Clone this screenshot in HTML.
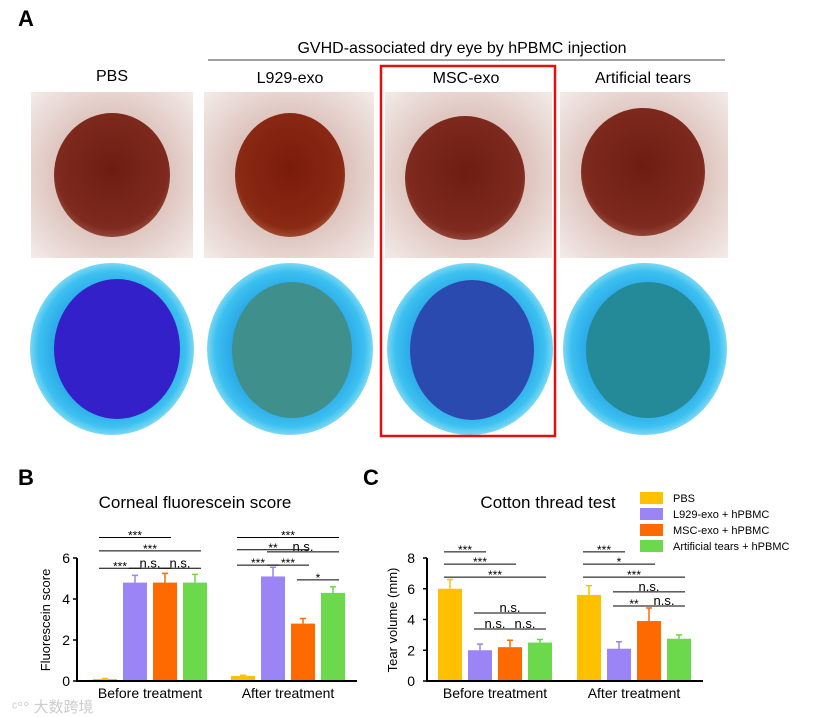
<!DOCTYPE html>
<html><head><meta charset="utf-8"><style>
body{margin:0;background:#fff}
svg{display:block;font-family:"Liberation Sans",Arial,sans-serif}
</style></head><body>
<svg width="817" height="717" viewBox="0 0 817 717">
<defs>
<radialGradient id="fur" cx="50%" cy="50%" r="70%"><stop offset="0" stop-color="#c89a90"/><stop offset="0.55" stop-color="#e0c8c2"/><stop offset="1" stop-color="#f3ebe8"/></radialGradient>
<radialGradient id="iris" cx="50%" cy="45%" r="60%"><stop offset="0" stop-color="#6e1c12"/><stop offset="0.8" stop-color="#7e2a1e"/><stop offset="1" stop-color="#a0584a"/></radialGradient>
<radialGradient id="iris2" cx="50%" cy="45%" r="60%"><stop offset="0" stop-color="#7a1a0a"/><stop offset="0.8" stop-color="#8a2a14"/><stop offset="1" stop-color="#b06040"/></radialGradient>
<radialGradient id="cy" cx="50%" cy="50%" r="50%"><stop offset="0.7" stop-color="#2aa8e8"/><stop offset="0.9" stop-color="#3cc0f0"/><stop offset="1" stop-color="#7ad8f4"/></radialGradient>
</defs>
<text x="18" y="26" font-size="22" font-weight="bold">A</text>
<text x="462" y="53" font-size="16" text-anchor="middle">GVHD-associated dry eye by hPBMC injection</text>
<line x1="208" y1="60" x2="725" y2="60" stroke="#444" stroke-width="1"/>
<g font-size="16" text-anchor="middle">
<text x="112" y="81">PBS</text>
<text x="290" y="83">L929-exo</text>
<text x="466" y="83">MSC-exo</text>
<text x="643" y="83">Artificial tears</text>
</g>
<g>
<rect x="31" y="92" width="162" height="166" fill="url(#fur)"/>
<ellipse cx="112" cy="175" rx="58" ry="62" fill="url(#iris)"/>
<rect x="204" y="92" width="170" height="166" fill="url(#fur)"/>
<ellipse cx="290" cy="175" rx="55" ry="62" fill="url(#iris2)"/>
<rect x="385" y="92" width="167" height="166" fill="url(#fur)"/>
<ellipse cx="465" cy="178" rx="60" ry="62" fill="url(#iris)"/>
<rect x="560" y="92" width="168" height="166" fill="url(#fur)"/>
<ellipse cx="643" cy="172" rx="62" ry="64" fill="url(#iris)"/>
</g>
<g>
<ellipse cx="112" cy="349" rx="82" ry="86" fill="url(#cy)"/>
<ellipse cx="117" cy="349" rx="63" ry="70" fill="#3320c8"/>
<ellipse cx="290" cy="349" rx="83" ry="86" fill="url(#cy)"/>
<ellipse cx="292" cy="350" rx="60" ry="68" fill="#3f8f8c"/>
<ellipse cx="470" cy="349" rx="83" ry="86" fill="url(#cy)"/>
<ellipse cx="472" cy="350" rx="62" ry="70" fill="#2a4ab0"/>
<ellipse cx="645" cy="349" rx="82" ry="86" fill="url(#cy)"/>
<ellipse cx="648" cy="350" rx="62" ry="68" fill="#258a98"/>
</g>
<rect x="381" y="66" width="174" height="370" fill="none" stroke="#e01010" stroke-width="2.5"/>

<text x="18" y="485" font-size="22" font-weight="bold">B</text>
<text x="195" y="508" font-size="17" text-anchor="middle">Corneal fluorescein score</text>
<text transform="translate(50,620) rotate(-90)" font-size="13" text-anchor="middle">Fluorescein score</text>
<g id="chartB"></g>
<text x="363" y="485" font-size="22" font-weight="bold">C</text>
<text x="548" y="508" font-size="17" text-anchor="middle">Cotton thread test</text>
<text transform="translate(397,620) rotate(-90)" font-size="13" text-anchor="middle">Tear volume (mm)</text>
<g id="chartC"></g>
<g font-size="11">
<rect x="640" y="492" width="23" height="12" fill="#ffc000"/><text x="673" y="502">PBS</text>
<rect x="640" y="508" width="23" height="12" fill="#9b84f5"/><text x="673" y="518">L929-exo + hPBMC</text>
<rect x="640" y="524" width="23" height="12" fill="#ff6a00"/><text x="673" y="534">MSC-exo + hPBMC</text>
<rect x="640" y="540" width="23" height="12" fill="#6cd84c"/><text x="673" y="550">Artificial tears + hPBMC</text>
</g>
<text x="12" y="712" font-size="15" fill="#ccc" font-family="'Liberation Sans','Noto Sans CJK SC',sans-serif">ᶜ°° 大数跨境</text>
</svg>
<script>
const NS="http://www.w3.org/2000/svg";
const colors=["#ffc000","#9b84f5","#ff6a00","#6cd84c"];
const groups=["Before treatment","After treatment"];
const bBefore=[0.1,4.8,4.8,4.8], bBeforeErr=[0.02,0.35,0.45,0.4];
const bAfter=[0.25,5.1,2.8,4.3], bAfterErr=[0.03,0.45,0.25,0.3];
const bTicks=[0,2,4,6];
const cBefore=[6.0,2.0,2.2,2.5], cBeforeErr=[0.6,0.4,0.45,0.2];
const cAfter=[5.6,2.1,3.9,2.75], cAfterErr=[0.6,0.45,0.85,0.25];
const cTicks=[0,2,4,6,8];
const bSig=[["***",0,0,2,7.0],["***",0,0,3,6.35],["***",0,0,1,5.5],["n.s.",0,1,2,5.5],["n.s.",0,2,3,5.5],
 ["***",1,0,3,7.0],["**",1,0,2,6.4],["n.s.",1,1,3,6.3],["***",1,0,1,5.65],["***",1,1,2,5.65],["*",1,2,3,4.93]];
const cSig=[["***",0,0,1,8.4],["***",0,0,2,7.6],["***",0,0,3,6.76],["n.s.",0,1,3,4.42],["n.s.",0,1,2,3.38],["n.s.",0,2,3,3.38],
 ["***",1,0,1,8.4],["*",1,0,2,7.6],["***",1,0,3,6.76],["n.s.",1,1,3,5.8],["**",1,1,2,4.88],["n.s.",1,2,3,4.88]];
function el(t,a,p){const e=document.createElementNS(NS,t);for(const k in a)e.setAttribute(k,a[k]);p.appendChild(e);return e;}
function chart(id,x0,x1,y0,y1,max,ticks,gx,series,errs,sig,tickX){
 const g=document.getElementById(id);
 const ys=v=>y0-(v/max)*(y0-y1);
 const bx=(gi,i)=>gx[gi]+i*30;
 ticks.forEach(t=>{const tx=el("text",{x:tickX,y:ys(t)+5,"font-size":14,"text-anchor":"end"},g);tx.textContent=t;
  
  
  const tl=el("line",{x1:x0-4,x2:x0,y1:ys(t),y2:ys(t),stroke:"#000","stroke-width":1.5},g);
  
  });
 series.forEach((s,gi)=>s.forEach((v,i)=>{
  const x=bx(gi,i),e=errs[gi][i],cx=x+12;
  const r=el("rect",{x:x,y:ys(v),width:24,height:y0-ys(v),fill:colors[i]},g);
  
  
  const eb=el("path",{d:`M${cx} ${ys(v)}V${ys(v+e)}M${cx-3} ${ys(v+e)}H${cx+3}`,stroke:colors[i],"stroke-width":1.5,fill:"none"},g);
  
  
 }));
 const ax=el("path",{d:`M${x0} ${y1}V${y0}H${x1}`,stroke:"#000","stroke-width":2,fill:"none"},g);
 
 
 groups.forEach((n,gi)=>{const t=el("text",{x:gx[gi]+57,y:y0+17,"font-size":14,"text-anchor":"middle"},g);t.textContent=n;
  
  });
 sig.forEach(([lab,gi,a,b,v])=>{const xa=bx(gi,a)+12,xb=bx(gi,b)+12,y=ys(v);
  const l=el("line",{x1:xa-6,x2:xb+6,y1:y,y2:y,stroke:"#000","stroke-width":1},g);
  
  
  const t=el("text",{x:(xa+xb)/2,y:lab=="n.s."?y-1:y+2,"font-size":lab=="n.s."?13:12,"text-anchor":"middle"},g);t.textContent=lab;
  
  });
}
chart("chartB",77,357,681,558,6,bTicks,[93,231],[bBefore,bAfter],[bBeforeErr,bAfterErr],bSig,70);
chart("chartC",427,703,681,558,8,cTicks,[438,577],[cBefore,cAfter],[cBeforeErr,cAfterErr],cSig,415);
</script>
</body></html>
